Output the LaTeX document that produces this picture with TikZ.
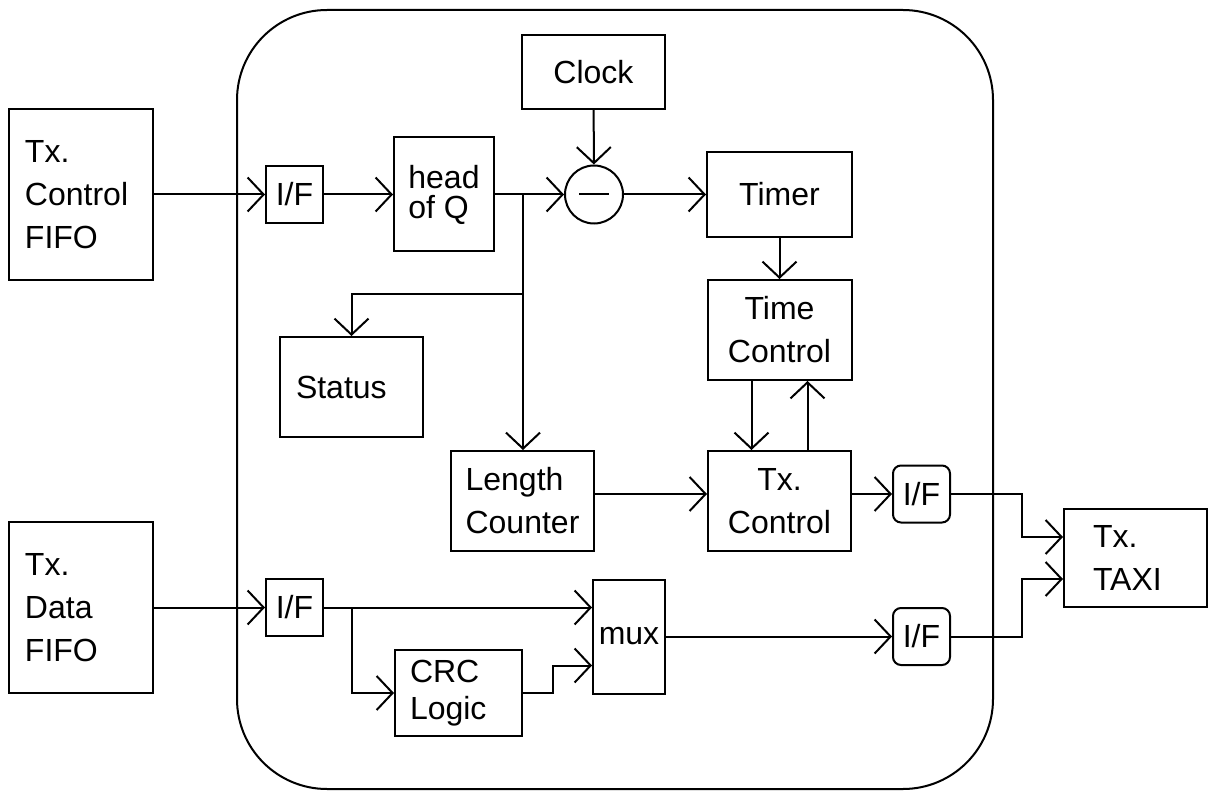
\documentclass[tikz,border=0pt]{standalone}
\usepackage{fontspec}
\setmainfont{Liberation Sans}
\usetikzlibrary{arrows.meta,positioning,calc}

\begin{document}
\begin{tikzpicture}[x=0.5pt,y=-0.5pt,
  font=\fontsize{16}{21.5}\selectfont,
  box/.style={draw,line width=1pt,inner sep=0pt,align=center},
  lbox/.style={box,align=left,inner xsep=#1},
  ifbox/.style={box,minimum width=28.5pt,minimum height=28.5pt},
  wire/.style={line width=1pt},
  arr/.style={wire,-{Straight Barb[length=8pt,width=17pt]}}]
  \useasboundingbox (0,0) rectangle (1210,791);

  % transmitter frame
  \draw[wire,rounded corners=45pt] (237,10) rectangle (993,789);

  % control path
  \node[lbox=8pt,text width=56pt,minimum height=85.5pt] (cfifo) at (81,194.5) {Tx.\\Control\\FIFO};
  \node[ifbox] (ifc) at (294.5,194.5) {I/F};
  \node[box,minimum width=50pt,minimum height=57pt,align=left,
    font=\fontsize{16}{15}\selectfont] (headq) at (444,194.5) {head\\of Q};
  \node[box,minimum width=71.5pt,minimum height=37pt] (clock) at (593.5,72) {Clock};
  \node[draw,line width=1pt,circle,minimum size=29pt,inner sep=0pt] (sub) at (594,194.5) {};
  \draw[wire] ([xshift=-7.5pt]sub.center) -- ([xshift=7.5pt]sub.center);
  \node[box,minimum width=72.5pt,minimum height=42.5pt] (timer) at (779.5,194.5) {Timer};
  \node[box,minimum width=72pt,minimum height=50pt] (timectl) at (779.5,330) {Time\\Control};
  \node[lbox=8pt,text width=55.5pt,minimum height=50pt] (status) at (351.5,387) {Status};
  \node[box,minimum width=71.5pt,minimum height=50pt,align=left] (lencnt) at (522.5,501) {Length\\Counter};
  \node[box,minimum width=71.5pt,minimum height=50pt] (txctl) at (779.5,501) {Tx.\\Control};
  \node[ifbox,rounded corners=4pt] (ifo1) at (921.5,494) {I/F};
  \node[lbox=14.5pt,text width=42.5pt,minimum height=49pt] (taxi) at (1135.5,558) {Tx.\\TAXI};

  % data path
  \node[lbox=8pt,text width=56pt,minimum height=85.5pt] (dfifo) at (81,607.5) {Tx.\\Data\\FIFO};
  \node[ifbox] (ifd) at (294.5,607.5) {I/F};
  \node[box,minimum width=36pt,minimum height=57pt] (mux) at (629,636.5) {mux};
  \node[lbox=7.5pt,text width=48.5pt,minimum height=43pt,
    font=\fontsize{16}{18.5}\selectfont] (crc) at (458.5,693) {CRC\\Logic};
  \node[ifbox,rounded corners=4pt] (ifo2) at (921.5,636.5) {I/F};

  \coordinate (qsplit) at (523,194.5);
  \coordinate (ssplit) at (523,294);
  \coordinate (dsplit) at (352,607.5);

  % connectors
  \draw[arr] (cfifo) -- (ifc);
  \draw[arr] (ifc) -- (headq);
  \draw[arr] (headq) -- (sub);
  \draw[arr] (clock) -- (sub);
  \draw[arr] (sub) -- (timer);
  \draw[arr] (qsplit) -- (qsplit |- lencnt.north);
  \draw[arr] (ssplit) -| (status.north);
  \draw[arr] (timer) -- (timectl);
  \draw[arr] ([xshift=-14pt]timectl.south) -- ([xshift=-14pt]txctl.north);
  \draw[arr] ([xshift=14pt]txctl.north) -- ([xshift=14pt]timectl.south);
  \draw[arr] (lencnt.east |- ifo1) -- (txctl.west |- ifo1);
  \draw[arr] (txctl.east |- ifo1) -- (ifo1.west);
  \draw[arr] (ifo1.east) -- ++(35.5pt,0) |- ([yshift=10.5pt]taxi.west);

  \draw[arr] (dfifo) -- (ifd);
  \draw[arr] (ifd.east) -- (ifd.east -| mux.west);
  \draw[arr] (dsplit) |- (crc.west);
  \draw[arr] (crc.east) -- ++(15pt,0) |- ([yshift=-14.5pt]mux.west);
  \draw[arr] (mux) -- (ifo2);
  \draw[arr] (ifo2.east) -- ++(35.5pt,0) |- ([yshift=-10.5pt]taxi.west);
\end{tikzpicture}
\end{document}
